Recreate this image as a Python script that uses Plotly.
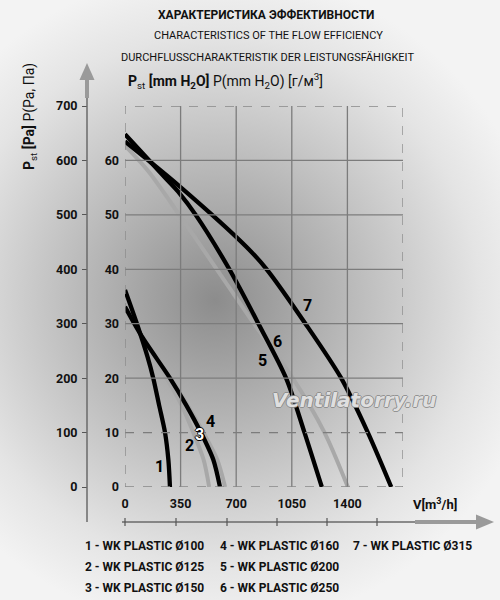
import plotly.graph_objects as go
from urllib.parse import quote

# --- data (flow m3/h, static pressure Pa) ---
flow_1 = [0, 75, 141, 178, 215, 252, 273, 283]
p_1 = [362, 300, 240, 200, 150, 100, 50, 0]
flow_2 = [0, 105, 262, 357, 430, 495, 530]
p_2 = [326, 273, 200, 150, 100, 50, 0]
flow_3 = [0, 105, 290, 395, 493, 581, 630]
p_3 = [331, 278, 200, 150, 100, 50, 0]
flow_4 = [0, 105, 283, 386, 478, 556, 598]
p_4 = [331, 277, 200, 150, 100, 50, 0]
flow_5 = [0, 250, 342, 445, 657, 840, 1014, 1130, 1239]
p_5 = [648, 569, 540, 500, 400, 300, 200, 100, 0]
flow_6 = [0, 147, 342, 578, 812, 1056, 1256, 1403]
p_6 = [627, 580, 500, 400, 300, 200, 100, 0]
flow_7 = [0, 342, 762, 892, 1136, 1361, 1529, 1676]
p_7 = [635, 553, 442, 400, 300, 200, 100, 0]

gray_curves = [(flow_2, p_2), (flow_3, p_3), (flow_6, p_6)]
black_curves = [(flow_1, p_1), (flow_4, p_4), (flow_5, p_5), (flow_7, p_7)]

curve_labels = ["1", "2", "3", "4", "5", "6", "7"]
label_x = [216, 405, 472, 539, 867, 962, 1150]
label_y = [37, 76, 96, 120, 233, 268, 333]

x_ticks = [0, 350, 700, 1050, 1400]
x_grid = [350, 700, 1050, 1400]
pa_ticks = [0, 100, 200, 300, 400, 500, 600, 700]
mm_ticks = [0, 100, 200, 300, 400, 500, 600]
mm_text = ["0", "10", "20", "30", "40", "50", "60"]
y_grid = [100, 200, 300, 400, 500, 600]

legend_cols = [
    ["1 - WK PLASTIC Ø100", "2 - WK PLASTIC Ø125", "3 - WK PLASTIC Ø150"],
    ["4 - WK PLASTIC Ø160", "5 - WK PLASTIC Ø200", "6 - WK PLASTIC Ø250"],
    ["7 - WK PLASTIC Ø315"],
]

FONT = "Roboto, Liberation Sans, sans-serif"
GRAY = "#a8a8a8"
GRID = "#7c7c7c"

# layout helpers: pixel -> paper
L, R, T, B = 30, 60, 60, 70
W, H = 500, 600
def px(x):
    return (x - L) / (W - L - R)
def py(y):
    return (H - B - y) / (H - T - B)

fig = go.Figure()

for fx, fp in gray_curves:
    fig.add_trace(go.Scatter(x=fx, y=fp, mode="lines", hoverinfo="skip",
                             line=dict(color=GRAY, width=4, shape="spline", smoothing=0.8)))
for fx, fp in black_curves:
    fig.add_trace(go.Scatter(x=fx, y=fp, mode="lines", hoverinfo="skip",
                             line=dict(color="black", width=4.3, shape="spline", smoothing=0.8)))
# dummy trace so the outer Pa axis renders
fig.add_trace(go.Scatter(x=[None], y=[None], yaxis="y2", hoverinfo="skip"))

# background vignette
svg = ('<svg xmlns="http://www.w3.org/2000/svg" width="500" height="600">'
       '<defs><radialGradient id="g" cx="215" cy="300" r="330" gradientUnits="userSpaceOnUse">'
       '<stop offset="0" stop-color="#8c8c8c"/><stop offset="0.45" stop-color="#bebebe"/>'
       '<stop offset="0.8" stop-color="#e4e4e4"/><stop offset="1" stop-color="#f3f3f3"/>'
       '</radialGradient></defs><rect width="500" height="600" fill="url(#g)"/></svg>')
fig.add_layout_image(dict(source="data:image/svg+xml;charset=utf-8," + quote(svg),
                          xref="paper", yref="paper", x=px(0), y=py(0),
                          sizex=px(W) - px(0), sizey=py(0) - py(H),
                          xanchor="left", yanchor="top", sizing="stretch", layer="below"))

shapes = []
for gx in x_grid:
    shapes.append(dict(type="line", xref="x", yref="y", x0=gx, x1=gx, y0=0, y1=700,
                       line=dict(color=GRID, width=1.3)))
for gy in y_grid:
    shapes.append(dict(type="line", xref="x", yref="y", x0=0, x1=1750, y0=gy, y1=gy,
                       line=dict(color=GRID, width=1.3, dash="dash" if gy == 100 else "solid")))
shapes.append(dict(type="rect", xref="x", yref="y", x0=0, x1=1750, y0=0, y1=700,
                   line=dict(color="#888888", width=1.3, dash="dash")))
# outer vertical axis with arrow
shapes.append(dict(type="line", xref="paper", yref="paper", x0=px(87), x1=px(87), y0=py(522), y1=py(80),
                   line=dict(color="#6a6a6a", width=1.5)))
shapes.append(dict(type="line", xref="paper", yref="paper", x0=px(87), x1=px(87), y0=py(98), y1=py(78),
                   line=dict(color="#9a9a9a", width=4)))
shapes.append(dict(type="path", xref="paper", yref="paper", fillcolor="#9a9a9a", line=dict(width=0),
                   path=f"M {px(87)},{py(63)} L {px(79.5)},{py(80)} L {px(94.5)},{py(80)} Z"))
# bottom axis with arrow
shapes.append(dict(type="line", xref="paper", yref="paper", x0=px(122), x1=px(478), y0=py(522), y1=py(522),
                   line=dict(color="#6a6a6a", width=1.5)))
shapes.append(dict(type="line", xref="paper", yref="paper", x0=px(415), x1=px(478), y0=py(522), y1=py(522),
                   line=dict(color="#9a9a9a", width=4)))
shapes.append(dict(type="path", xref="paper", yref="paper", fillcolor="#9a9a9a", line=dict(width=0),
                   path=f"M {px(494)},{py(522)} L {px(476)},{py(514.5)} L {px(476)},{py(529.5)} Z"))
for tx in [125, 176, 227, 277, 327, 377]:
    shapes.append(dict(type="line", xref="paper", yref="paper", x0=px(tx), x1=px(tx), y0=py(518), y1=py(526),
                       line=dict(color="#555555", width=1.2)))

ann = []
# titles
ann.append(dict(text="<b>ХАРАКТЕРИСТИКА ЭФФЕКТИВНОСТИ</b>", x=px(266), y=py(15), font=dict(size=12)))
ann.append(dict(text="CHARACTERISTICS OF THE FLOW EFFICIENCY", x=px(268), y=py(36), font=dict(size=11)))
ann.append(dict(text="DURCHFLUSSCHARAKTERISTIK DER LEISTUNGSFÄHIGKEIT", x=px(267), y=py(57), font=dict(size=11)))
ann.append(dict(text="<b>P</b><sub>st</sub> <b>[mm H<sub>2</sub>O]</b> P(mm H<sub>2</sub>O) [г/м<sup>3</sup>]",
                x=px(126), y=py(81), xanchor="left", font=dict(size=14)))
ann.append(dict(text="<b>P</b><sub>st</sub> <b>[Pa]</b> P(Pa, Па)", x=px(30), y=py(117), textangle=-90,
                font=dict(size=14)))
ann.append(dict(text="<b>V[m<sup>3</sup>/h]</b>", x=px(435), y=py(504), font=dict(size=13)))
# legend text
col_x = [83, 218, 351]
row_y = [546, 567, 588]
for cx, col in zip(col_x, legend_cols):
    for ry, txt in zip(row_y, col):
        ann.append(dict(text="<b>" + txt + "</b>", x=px(cx), y=py(ry), xanchor="left", font=dict(size=12)))
# curve numbers
for lab, lx, ly in zip(curve_labels, label_x, label_y):
    if lab == "3":
        f = dict(size=16, color="white", weight="bold",
                 shadow="1px 0 0 #000, -1px 0 0 #000, 0 1px 0 #000, 0 -1px 0 #000")
    else:
        f = dict(size=16, color="black", weight="bold")
    ann.append(dict(text=lab, x=lx, y=ly, xref="x", yref="y", font=f))
# watermark
ann.append(dict(text="<i><b>Ventilatorry.ru</b></i>", x=px(354), y=py(400),
                font=dict(size=20, family="DejaVu Sans", color="rgba(236,236,236,0.9)",
                          shadow="1px 0 0 #8a8a8a, -1px 0 0 #8a8a8a, 0 1px 0 #8a8a8a, 0 -1px 0 #8a8a8a")))
for a in ann:
    a.setdefault("xref", "paper")
    a.setdefault("yref", "paper")
    a["showarrow"] = False
    a.setdefault("xanchor", "center")
    a["yanchor"] = "middle"
    a.setdefault("font", {})
    a["font"].setdefault("family", FONT)
    a["font"].setdefault("color", "#111111")

tick_font = dict(size=12.5, weight="bold", family=FONT, color="#111111")
fig.update_layout(
    width=W, height=H,
    margin=dict(l=L, r=R, t=T, b=B),
    showlegend=False,
    paper_bgcolor="#eeeeee",
    plot_bgcolor="rgba(0,0,0,0)",
    font=dict(family=FONT, color="#111111"),
    shapes=shapes,
    annotations=ann,
    xaxis=dict(domain=[px(125), px(403)], range=[0, 1750], tickvals=x_ticks,
               showgrid=False, zeroline=False, showline=False, ticks="",
               ticklabelstandoff=7, tickfont=tick_font),
    yaxis=dict(domain=[py(487), py(106)], range=[0, 700], tickvals=mm_ticks, ticktext=mm_text,
               showgrid=False, zeroline=False, showline=False, ticks="",
               ticklabelstandoff=5, tickfont=tick_font),
    yaxis2=dict(overlaying="y", anchor="free", position=px(87), side="left", range=[0, 700],
                tickvals=pa_ticks, showgrid=False, zeroline=False, showline=False,
                ticks="outside", ticklen=5, tickcolor="#555555", tickwidth=1.2,
                ticklabelstandoff=2, tickfont=tick_font),
)

# drop the page's default 8px body margin so the figure sits at the window corner
fig.write_html("out.html", config={"displayModeBar": False},
               post_script="document.body.style.margin='0';")
